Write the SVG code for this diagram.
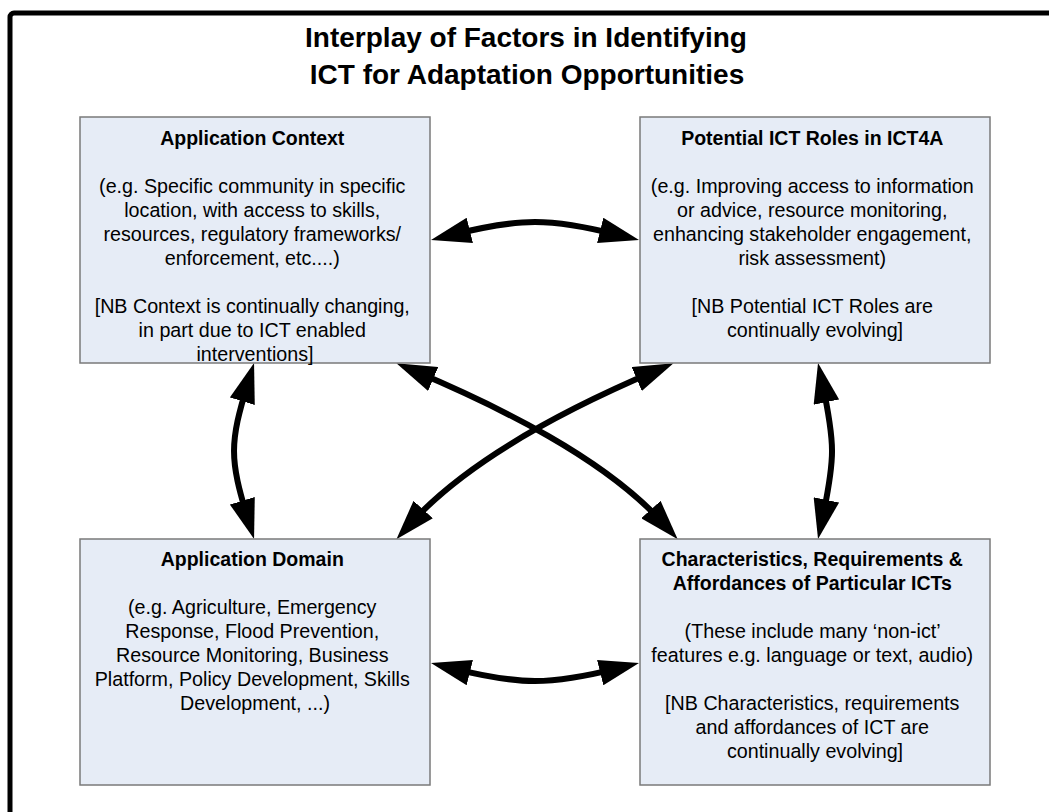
<svg xmlns="http://www.w3.org/2000/svg" width="1049" height="812" viewBox="0 0 1049 812">
<style>
.box{fill:#E6ECF6;stroke:#7a7a7a;stroke-width:1.5}
.t{font-family:"Liberation Sans",Arial,sans-serif;font-size:19.7px;fill:#000;text-anchor:middle}
.b{font-weight:bold;font-size:19.5px}
.title{font-family:"Liberation Sans",Arial,sans-serif;font-size:28px;font-weight:bold;fill:#000;text-anchor:middle}
.con{fill:none;stroke:#000;stroke-width:6}
</style>
<defs>
<marker id="ah" markerUnits="userSpaceOnUse" viewBox="-20 -13 40 26" markerWidth="40" markerHeight="26" refX="0" refY="0" orient="auto-start-reverse">
<path d="M20,0 L-20,-13 L-20,13 Z" fill="#000"/>
</marker>
</defs>
<rect width="1049" height="812" fill="#fff"/>
<rect id="frame" x="10" y="13" width="1060" height="820" rx="4" fill="none" stroke="#000" stroke-width="5"/>
<g id="title">
<text class="title" x="526" y="47">Interplay of Factors in Identifying</text>
<text class="title" x="527" y="84">ICT for Adaptation Opportunities</text>
</g>
<g id="connectors">
<path class="con" marker-start="url(#ah)" marker-end="url(#ah)" d="M450.4,235.2 C520.9,217.6 549.1,217.6 619.6,235.2"/>
<path class="con" marker-start="url(#ah)" marker-end="url(#ah)" d="M450.4,667.8 C520.9,685.4 549.1,685.4 619.6,667.8"/>
<path class="con" marker-start="url(#ah)" marker-end="url(#ah)" d="M248.2,382.1 C229.3,443.8 229.3,458.2 248.2,519.9"/>
<path class="con" marker-start="url(#ah)" marker-end="url(#ah)" d="M822.2,382.6 C835.3,444.1 835.3,457.9 822.2,519.4"/>
<path class="con" marker-start="url(#ah)" marker-end="url(#ah)" d="M414.8,371.1 C497.6,406.3 604.1,457.5 664.3,524.4"/>
<path class="con" marker-start="url(#ah)" marker-end="url(#ah)" d="M655.1,371.1 C572.3,406.3 470,457.5 409.8,524.4"/>
</g>
<g id="app-context">
<rect class="box" x="80" y="117" width="350" height="246"/>
<text class="t">
<tspan class="b" x="255" y="145">Application Context</tspan>
<tspan x="255" y="193">(e.g. Specific community in specific</tspan>
<tspan x="255" y="217">location, with access to skills,</tspan>
<tspan x="255" y="241">resources, regulatory frameworks/</tspan>
<tspan x="255" y="265">enforcement, etc....)</tspan>
<tspan x="255" y="313">[NB Context is continually changing,</tspan>
<tspan x="255" y="337">in part due to ICT enabled</tspan>
<tspan x="255" y="361">interventions]</tspan>
</text>
</g>
<g id="ict-roles">
<rect class="box" x="640" y="117" width="350" height="246"/>
<text class="t">
<tspan class="b" x="815" y="145">Potential ICT Roles in ICT4A</tspan>
<tspan x="815" y="193">(e.g. Improving access to information</tspan>
<tspan x="815" y="217">or advice, resource monitoring,</tspan>
<tspan x="815" y="241">enhancing stakeholder engagement,</tspan>
<tspan x="815" y="265">risk assessment)</tspan>
<tspan x="815" y="313">[NB Potential ICT Roles are</tspan>
<tspan x="815" y="337">continually evolving]</tspan>
</text>
</g>
<g id="app-domain">
<rect class="box" x="80" y="539" width="350" height="246"/>
<text class="t">
<tspan class="b" x="255" y="566">Application Domain</tspan>
<tspan x="255" y="614">(e.g. Agriculture, Emergency</tspan>
<tspan x="255" y="638">Response, Flood Prevention,</tspan>
<tspan x="255" y="662">Resource Monitoring, Business</tspan>
<tspan x="255" y="686">Platform, Policy Development, Skills</tspan>
<tspan x="255" y="710">Development, ...)</tspan>
</text>
</g>
<g id="ict-characteristics">
<rect class="box" x="640" y="539" width="350" height="246"/>
<text class="t">
<tspan class="b" x="815" y="566">Characteristics, Requirements &amp;</tspan>
<tspan class="b" x="815" y="590">Affordances of Particular ICTs</tspan>
<tspan x="815" y="638">(These include many ‘non-ict’</tspan>
<tspan x="815" y="662">features e.g. language or text, audio)</tspan>
<tspan x="815" y="710">[NB Characteristics, requirements</tspan>
<tspan x="815" y="734">and affordances of ICT are</tspan>
<tspan x="815" y="758">continually evolving]</tspan>
</text>
</g>
</svg>
